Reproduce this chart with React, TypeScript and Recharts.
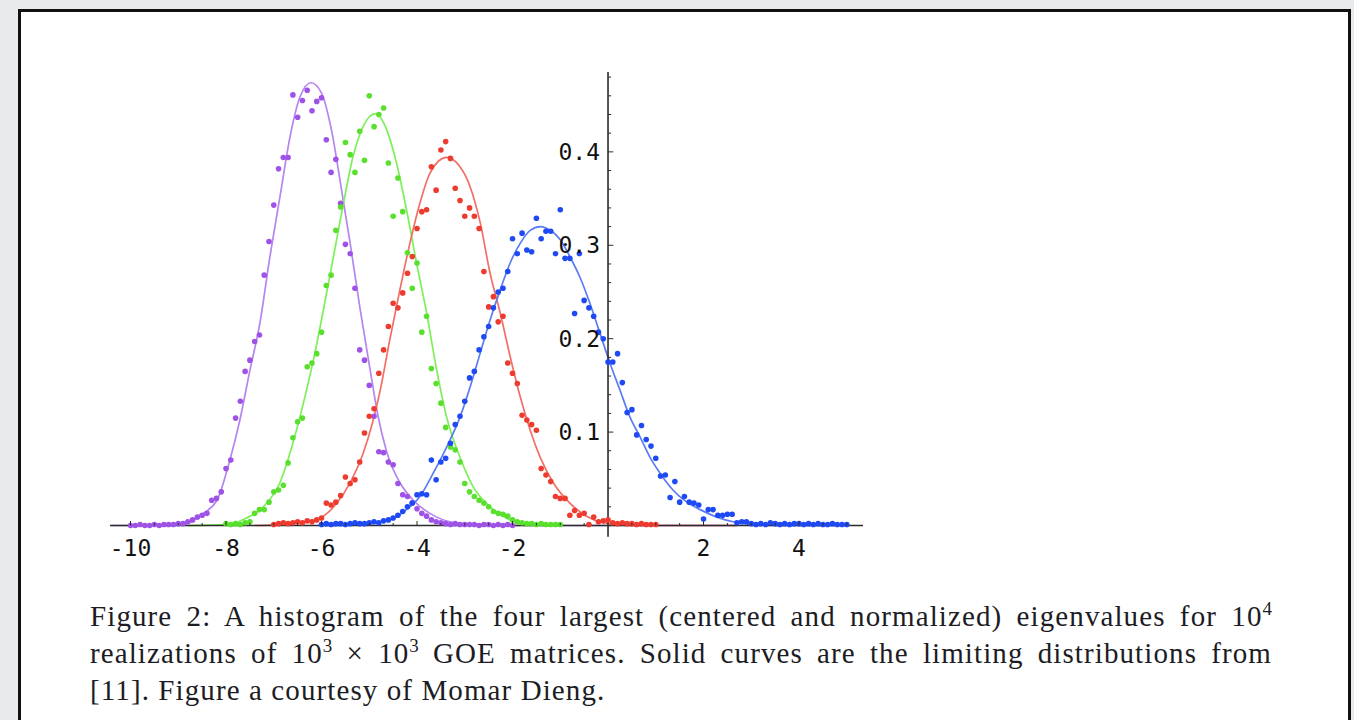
import { ComposedChart, Line, Scatter, XAxis, YAxis, ReferenceLine } from 'recharts'

// histogram bins are 0.1 wide; each list starts at the given x
const BIN = 0.1

const purpleStart = -10
const purpleHist = [
  0, 0, 0.001, 0, 0, 0.001, 0, 0.001, 0.001, 0.001, 0.002, 0.002,
  0.004, 0.006, 0.009, 0.011, 0.013, 0.027, 0.029, 0.036, 0.061, 0.07,
  0.115, 0.133, 0.165, 0.177, 0.197, 0.204, 0.268, 0.304, 0.343, 0.382,
  0.394, 0.394, 0.461, 0.437, 0.455, 0.466, 0.444, 0.454, 0.458, 0.413,
  0.378, 0.392, 0.345, 0.301, 0.291, 0.254, 0.188, 0.177, 0.15, 0.117,
  0.079, 0.078, 0.068, 0.065, 0.045, 0.033, 0.031, 0.024, 0.018, 0.013,
  0.01, 0.006, 0.004, 0.003, 0.002, 0.001, 0.002, 0.001, 0.001, 0.001,
  0.001, 0, 0.001, 0.001, 0, 0.001, 0, 0.001, 0,
]

const greenStart = -8
const greenHist = [
  0.002, 0.001, 0.002, 0.001, 0.003, 0.004, 0.013, 0.017, 0.017, 0.025,
  0.036, 0.038, 0.043, 0.067, 0.094, 0.111, 0.115, 0.17, 0.174, 0.184,
  0.207, 0.257, 0.268, 0.316, 0.341, 0.41, 0.397, 0.378, 0.422, 0.391,
  0.46, 0.427, 0.44, 0.447, 0.388, 0.331, 0.372, 0.336, 0.292, 0.254,
  0.281, 0.207, 0.224, 0.168, 0.152, 0.131, 0.105, 0.084, 0.081, 0.068,
  0.045, 0.036, 0.031, 0.027, 0.024, 0.02, 0.015, 0.013, 0.012, 0.01,
  0.006, 0.004, 0.003, 0.002, 0.002, 0.001, 0.002, 0.001, 0.001, 0.001, 0.001,
]

const redStart = -7
const redHist = [
  0.001, 0.002, 0.003, 0.002, 0.003, 0.004, 0.003, 0.005, 0.004, 0.006,
  0.008, 0.024, 0.022, 0.025, 0.032, 0.052, 0.045, 0.049, 0.068, 0.099,
  0.117, 0.125, 0.163, 0.188, 0.213, 0.238, 0.233, 0.249, 0.27, 0.288,
  0.318, 0.336, 0.338, 0.384, 0.359, 0.402, 0.411, 0.393, 0.361, 0.348,
  0.331, 0.34, 0.331, 0.318, 0.272, 0.234, 0.245, 0.218, 0.224, 0.174,
  0.163, 0.152, 0.118, 0.113, 0.108, 0.102, 0.061, 0.054, 0.047, 0.031,
  0.029, 0.029, 0.011, 0.016, 0.011, 0.013, 0.001, 0.009, 0.004, 0.005,
  0.006, 0.003, 0.002, 0.003, 0.002, 0.002, 0.001, 0.002, 0.001, 0.001, 0.001,
]

const blueStart = -6
const blueHist = [
  0.001, 0.002, 0.001, 0.002, 0.002, 0.001, 0.002, 0.003, 0.002, 0.002,
  0.003, 0.004, 0.003, 0.005, 0.006,
  0.008, 0.011, 0.015, 0.02, 0.024, 0.033, 0.034, 0.033, 0.07, 0.049,
  0.068, 0.072, 0.088, 0.108, 0.117, 0.133, 0.158, 0.165, 0.188, 0.202,
  0.213, 0.233, 0.25, 0.254, 0.272, 0.307, 0.291, 0.313, 0.295, 0.293,
  0.329, 0.307, 0.315, 0.315, 0.291, 0.338, 0.286, 0.286, 0.227, 0.291,
  0.241, 0.233, 0.224, 0.207, 0.2, 0.175, 0.175, 0.184, 0.153, 0.121,
  0.124, 0.097, 0.107, 0.092, 0.085, 0.072, 0.053, 0.054, 0.03, 0.047,
  0.025, 0.031, 0.025, 0.024, 0.022, 0.007, 0.017, 0.017, 0.011, 0.011,
  0.012, 0.012, 0.003, 0.004, 0.004,
  0.002, 0.001, 0.002, 0.001, 0.003, 0.002, 0.001, 0.002, 0.001, 0.002,
  0.002, 0.001, 0.002, 0.001, 0.002, 0.001, 0.001, 0.002, 0.001, 0.001, 0.001,
]

// limiting distributions as [x, density]
const purpleCurve: [number, number][] = [
  [-10.4, 0], [-9.2, 0], [-8.82, 0.002], [-8.54, 0.011], [-8.19, 0.027], [-7.92, 0.07],
  [-7.71, 0.113], [-7.5, 0.166], [-7.29, 0.217], [-7.08, 0.288], [-6.87, 0.352],
  [-6.66, 0.416], [-6.45, 0.459], [-6.22, 0.474], [-6.0, 0.463], [-5.79, 0.423],
  [-5.58, 0.359], [-5.4, 0.302], [-5.19, 0.231], [-4.98, 0.166], [-4.82, 0.118],
  [-4.63, 0.078], [-4.36, 0.046], [-4.08, 0.027], [-3.73, 0.013], [-3.31, 0.004],
  [-2.8, 0.001], [-2.0, 0], [2.7, 0],
]
const greenCurve: [number, number][] = [
  [-8.8, 0], [-8.0, 0.001], [-7.57, 0.008], [-7.22, 0.02], [-6.87, 0.046], [-6.6, 0.088],
  [-6.38, 0.131], [-6.17, 0.177], [-5.96, 0.231], [-5.75, 0.288], [-5.54, 0.345],
  [-5.34, 0.395], [-5.13, 0.427], [-4.87, 0.441], [-4.63, 0.423], [-4.43, 0.388],
  [-4.22, 0.338], [-4.01, 0.281], [-3.8, 0.228], [-3.59, 0.167], [-3.38, 0.116],
  [-3.1, 0.073], [-2.82, 0.041], [-2.47, 0.02], [-2.05, 0.006], [-1.63, 0.001], [-1.0, 0],
]
const redCurve: [number, number][] = [
  [-7.4, 0], [-6.8, 0.001], [-6.31, 0.004], [-5.96, 0.01], [-5.68, 0.024], [-5.4, 0.046],
  [-5.13, 0.077], [-4.77, 0.145], [-4.57, 0.199], [-4.36, 0.252], [-4.15, 0.302],
  [-3.94, 0.345], [-3.73, 0.377], [-3.38, 0.394], [-3.1, 0.384], [-2.89, 0.363],
  [-2.68, 0.325], [-2.47, 0.27], [-2.26, 0.228], [-2.05, 0.181], [-1.84, 0.138],
  [-1.63, 0.102], [-1.42, 0.073], [-1.15, 0.046], [-0.8, 0.024], [-0.45, 0.01],
  [-0.1, 0.003], [0.5, 0], [2.7, 0],
]
const blueCurve: [number, number][] = [
  [-6.0, 0], [-5.2, 0.001], [-4.57, 0.006], [-4.22, 0.017], [-3.94, 0.031], [-3.66, 0.056],
  [-3.38, 0.084], [-3.1, 0.116], [-2.89, 0.148], [-2.68, 0.184], [-2.47, 0.22],
  [-2.26, 0.252], [-2.05, 0.281], [-1.84, 0.302], [-1.63, 0.316], [-1.42, 0.32],
  [-1.21, 0.316], [-1.0, 0.306], [-0.8, 0.288], [-0.59, 0.266], [-0.38, 0.238],
  [-0.17, 0.206], [0.04, 0.174], [0.25, 0.145], [0.46, 0.116], [0.67, 0.095],
  [0.88, 0.073], [1.09, 0.056], [1.36, 0.038], [1.65, 0.025], [1.93, 0.017],
  [2.28, 0.009], [2.62, 0.004], [3.04, 0.001], [3.6, 0], [5.0, 0],
]

const xMajorTicks = [-10, -8, -6, -4, -2, 2, 4]
const xMinorTicks = [
  -9.5, -9, -8.5, -7.5, -7, -6.5, -5.5, -5, -4.5, -3.5, -3, -2.5,
  -1.5, -1, -0.5, 0.5, 1, 1.5, 2.5, 3, 3.5, 4.5, 5,
]
const yMajorTicks = [0.1, 0.2, 0.3, 0.4]
const yMinorTicks = [
  0.02, 0.04, 0.06, 0.08, 0.12, 0.14, 0.16, 0.18, 0.22, 0.24, 0.26, 0.28,
  0.32, 0.34, 0.36, 0.38, 0.42, 0.44, 0.46, 0.48,
]

const X_DOMAIN: [number, number] = [-10.43, 5.34]
const Y_TOP = 0.4855

const COLORS = {
  purple: { dot: '#9f52e6', line: '#b585f0' },
  green: { dot: '#58e02c', line: '#7def5a' },
  red: { dot: '#ee3b30', line: '#f26f66' },
  blue: { dot: '#1f4af3', line: '#5b7cf5' },
}

const MONO = '"DejaVu Sans Mono", monospace'
const AXIS = '#2b2b2b'

function hist(start: number, ys: number[]) {
  return ys.map((y, i) => ({ x: +(start + i * BIN).toFixed(2), y }))
}

function curve(pts: [number, number][]) {
  return pts.map(([x, y]) => ({ x, y }))
}

const dotShape = (color: string) => (p: any) => (
  <circle cx={p.cx} cy={p.cy} r={2.8} fill={color} />
)

function XTick(props: any) {
  const { x, y, payload } = props
  const major = xMajorTicks.includes(payload.value)
  return (
    <g>
      <line x1={x} x2={x} y1={y} y2={y - (major ? 4.5 : 2.5)} stroke={AXIS} strokeWidth={1} />
      {major && (
        <text x={x} y={y + 30} textAnchor="middle" fontFamily={MONO} fontSize={23} fill="#111">
          {String(payload.value)}
        </text>
      )}
    </g>
  )
}

const series = [
  { key: 'purple', dots: hist(purpleStart, purpleHist), line: curve(purpleCurve) },
  { key: 'green', dots: hist(greenStart, greenHist), line: curve(greenCurve) },
  { key: 'red', dots: hist(redStart, redHist), line: curve(redCurve) },
  { key: 'blue', dots: hist(blueStart, blueHist), line: curve(blueCurve) },
] as const

export default function App() {
  const allXTicks = [...xMajorTicks, ...xMinorTicks].sort((a, b) => a - b)
  return (
    <div style={s.page}>
      <div style={s.panel} />
      <div style={s.chart}>
        <ComposedChart width={800} height={500} margin={{ top: 12, right: 27, bottom: 4.5, left: 20 }}>
          <XAxis
            dataKey="x"
            type="number"
            domain={X_DOMAIN}
            ticks={allXTicks}
            interval={0}
            tickSize={0}
            tickMargin={0}
            tickLine={false}
            tick={XTick}
            axisLine={{ stroke: AXIS, strokeWidth: 1.3 }}
            height={30}
          />
          <YAxis dataKey="y" type="number" domain={[0, Y_TOP]} hide width={0} />

          {series.map((sr) => (
            <Line
              key={sr.key + '-line'}
              data={sr.line}
              dataKey="y"
              type="monotone"
              stroke={COLORS[sr.key].line}
              strokeWidth={1.7}
              dot={false}
              activeDot={false}
              isAnimationActive={false}
            />
          ))}
          {series.map((sr) => (
            <Scatter
              key={sr.key + '-dots'}
              data={sr.dots}
              fill={COLORS[sr.key].dot}
              shape={dotShape(COLORS[sr.key].dot)}
              isAnimationActive={false}
            />
          ))}

          {/* vertical axis sits at x = 0 */}
          <ReferenceLine
            segment={[{ x: 0, y: -0.012 }, { x: 0, y: Y_TOP }]}
            stroke={AXIS}
            strokeWidth={1.6}
            ifOverflow="visible"
          />
          {yMinorTicks.map((v) => (
            <ReferenceLine key={'ym' + v} segment={[{ x: 0, y: v }, { x: 0.065, y: v }]} stroke={AXIS} strokeWidth={1} />
          ))}
          {yMajorTicks.map((v) => (
            <ReferenceLine
              key={'yM' + v}
              segment={[{ x: 0, y: v }, { x: 0.11, y: v }]}
              stroke={AXIS}
              strokeWidth={1}
              label={{
                value: v.toFixed(1),
                position: 'left',
                offset: 8,
                fill: '#111',
                fontSize: 23,
                fontFamily: MONO,
              }}
            />
          ))}
        </ComposedChart>
      </div>
      <div style={s.caption}>
        <div style={s.justified}>
          Figure 2: A histogram of the four largest (centered and normalized) eigenvalues for 10<span style={s.sup}>4</span>
        </div>
        <div style={s.justified}>
          realizations of 10<span style={s.sup}>3</span> × 10<span style={s.sup}>3</span> GOE matrices. Solid curves are the limiting distributions from
        </div>
        <div>[11]. Figure a courtesy of Momar Dieng.</div>
      </div>
    </div>
  )
}

const s: Record<string, React.CSSProperties> = {
  page: {
    position: 'absolute',
    left: 0,
    top: 0,
    width: 1354,
    height: 720,
    overflow: 'hidden',
    background: '#e9eaec',
  },
  panel: {
    position: 'absolute',
    left: 18,
    top: 9,
    width: 1327,
    height: 800,
    border: '3px solid #111',
    background: '#fff',
  },
  chart: {
    position: 'absolute',
    left: 90,
    top: 60,
    width: 800,
    height: 500,
  },
  caption: {
    position: 'absolute',
    left: 90,
    top: 598,
    width: 1182,
    fontFamily: '"Liberation Serif", serif',
    fontSize: 29,
    letterSpacing: 1.1,
    lineHeight: '37px',
    color: '#1c1c24',
  },
  justified: {
    textAlign: 'justify',
    textAlignLast: 'justify',
  },
  sup: {
    fontSize: 19,
    verticalAlign: 'super',
    lineHeight: 0,
    letterSpacing: 0,
  },
}
